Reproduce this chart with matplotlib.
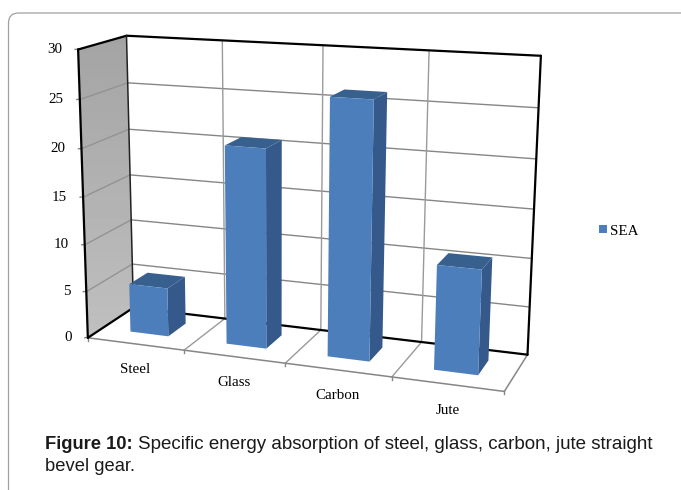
import matplotlib
matplotlib.use('Agg')
import numpy as np
import matplotlib.pyplot as plt
from matplotlib.patches import Polygon, Patch, FancyBboxPatch

categories = ['Steel', 'Glass', 'Carbon', 'Jute']
sea = [5.2, 20.7, 26.2, 10.6]
yticks = [0, 5, 10, 15, 20, 25, 30]
series_name = 'SEA'

plt.rcParams['font.family'] = 'Liberation Serif'
plt.rcParams['font.size'] = 10.8

# corners of the chart box seen in the picture: (cat, depth, value) -> pixel
anchors = [
    ((0, 0, 0), (89.5, 336.5)), ((4, 0, 0), (504, 393)),
    ((0, 1, 0), (131.7, 309)), ((4, 1, 0), (528, 353)),
    ((0, 0, 30), (76.7, 49.3)), ((0, 1, 30), (128, 35.7)),
    ((4, 1, 30), (540.7, 56)),
]

# fit a perspective camera to the corners
rows = []
for (X, Y, Z), (u, v) in anchors:
    rows.append([X, Y, Z, 1, 0, 0, 0, 0, -u*X, -u*Y, -u*Z, -u])
    rows.append([0, 0, 0, 0, X, Y, Z, 1, -v*X, -v*Y, -v*Z, -v])
cam = np.linalg.svd(np.array(rows, dtype=float))[2][-1].reshape(3, 4)

def proj(x, d, z):
    p = cam @ np.array([x, d, z, 1.0])
    return p[0]/p[2], p[1]/p[2]

fig = plt.figure(figsize=(6.81, 4.90), dpi=100)
ax = fig.add_axes([0, 0, 1, 1])
ax.axis('off')

# outer frame of the figure box
ax.add_patch(FancyBboxPatch((8.5, 13), 720, 520, boxstyle='round,pad=0,rounding_size=10',
                            fc='white', ec='#a0a0a0', lw=0.9))

nx = len(categories)
zmax = yticks[-1]

def seg(a, b, color='#868686', lw=1.0, z=2):
    pa, pb = proj(*a), proj(*b)
    ax.plot([pa[0], pb[0]], [pa[1], pb[1]], color=color, lw=lw, zorder=z, solid_capstyle='round')

# left wall, slightly lighter towards the floor
wall = Polygon([proj(0, 0, 0), proj(0, 1, 0), proj(0, 1, zmax), proj(0, 0, zmax)],
               fc='none', ec='none', transform=ax.transData)
ax.add_patch(wall)
shade = np.linspace(0.64, 0.75, 64).reshape(-1, 1)
img = ax.imshow(shade, cmap='gray', vmin=0, vmax=1, extent=(70, 140, 340, 30), aspect='auto', zorder=1)
img.set_clip_path(wall)
ax.set_xlim(0, 681)
ax.set_ylim(490, 0)

# grid
for z in yticks[1:-1]:
    seg((0, 1, z), (nx, 1, z))
    seg((0, 0, z), (0, 1, z), color='#939393')
for i in range(1, nx):
    seg((i, 1, 0), (i, 1, zmax), color='#9a9a9a')
    seg((i, 0, 0), (i, 1, 0), color='#9a9a9a')

# floor front and right edges
seg((0, 0, 0), (nx, 0, 0), lw=1.1)
seg((nx, 0, 0), (nx, 1, 0), lw=1.1)

# black box edges
for a, b in [((0, 0, 0), (0, 0, zmax)), ((0, 0, zmax), (0, 1, zmax)), ((0, 1, zmax), (nx, 1, zmax)),
             ((nx, 1, zmax), (nx, 1, 0)), ((nx, 1, 0), (0, 1, 0)), ((0, 1, 0), (0, 0, 0))]:
    seg(a, b, color='black', lw=1.6, z=3)
seg((0, 1, 0), (0, 1, zmax), color='#222222', lw=1.1, z=3)

# bars
x0, w = 0.30, 0.40
d0, d1 = 0.31, 0.72
for i, v in enumerate(sea):
    l, r = i + x0, i + x0 + w
    ax.add_patch(Polygon([proj(r, d0, 0), proj(r, d1, 0), proj(r, d1, v), proj(r, d0, v)],
                         fc='#34598a', ec='none', zorder=4))
    ax.add_patch(Polygon([proj(l, d0, v), proj(r, d0, v), proj(r, d1, v), proj(l, d1, v)],
                         fc='#37608f', ec='none', zorder=4))
    ax.add_patch(Polygon([proj(l, d0, 0), proj(r, d0, 0), proj(r, d0, v), proj(l, d0, v)],
                         fc='#4b7ebb', ec='none', zorder=5))

# y ticks and labels
for z in yticks:
    px, py = proj(0, 0, z)
    ax.plot([px - 3, px], [py, py - 0.5], color='#868686', lw=1, zorder=2)
    ax.text(px - 16, py, str(z), ha='right', va='center', zorder=6)

# x ticks and labels
for i in range(nx + 1):
    px, py = proj(i, 0, 0)
    ax.plot([px, px], [py, py + 3], color='#868686', lw=1, zorder=2)
for i, name in enumerate(categories):
    px, py = proj(i + 0.5, 0, 0)
    ax.text(px, py + 26, name, ha='center', va='center', zorder=6)

ax.legend(handles=[Patch(fc='#4b7ebb', ec='none', label=series_name)], loc='center left',
          bbox_to_anchor=(585.5, 231), bbox_transform=ax.transData, frameon=False,
          handlelength=0.5, handleheight=0.5, handletextpad=0.25, fontsize=10.8)

# caption
cap = ax.text(45, 444, 'Figure 10:', family='Liberation Sans', weight='bold', fontsize=13.2,
              ha='left', va='center', color='#1a1a1a')
fig.canvas.draw()
bb = cap.get_window_extent()
ax.text(bb.x1 + 5.5, 444, 'Specific energy absorption of steel, glass, carbon, jute straight',
        family='Liberation Sans', fontsize=13.5, ha='left', va='center', color='#1a1a1a')
ax.text(45, 466.5, 'bevel gear.', family='Liberation Sans', fontsize=13.2, ha='left', va='center',
        color='#1a1a1a')

fig.savefig('out.png', dpi=100)
